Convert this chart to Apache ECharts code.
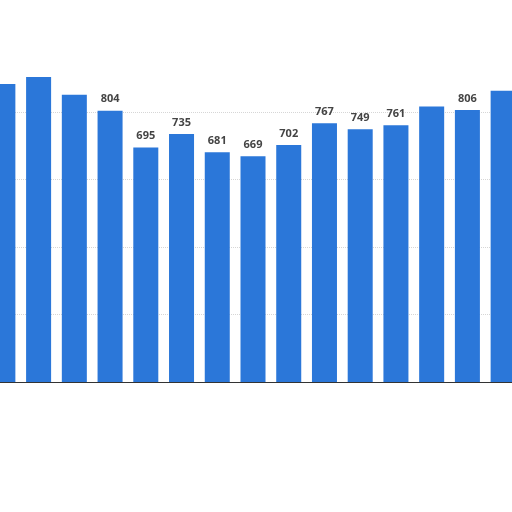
<!DOCTYPE html>
<html>
<head>
<meta charset="utf-8">
<script src="https://cdn.jsdelivr.net/npm/echarts@6/dist/echarts.min.js"></script>
<style>
html,body{margin:0;padding:0;background:#fff;overflow:hidden;width:512px;height:512px;}
#c{position:absolute;left:-15px;top:0;width:536px;height:512px;}
</style>
</head>
<body>
<div id="c"></div>
<script>
const categories = ['1','2','3','4','5','6','7','8','9','10','11','12','13','14','15'];
const values = [883, 904, 851, 804, 695, 735, 681, 669, 702, 767, 749, 761, 816, 806, 863];
const labelShown = [false, false, false, true, true, true, true, true, true, true, true, true, false, true, false];
const yTicks = [0, 200, 400, 600, 800];

const chart = echarts.init(document.getElementById('c'));
chart.setOption({
  animation: false,
  backgroundColor: '#ffffff',
  grid: { left: 0, right: 0, top: 112, bottom: 130, containLabel: false },
  xAxis: {
    type: 'category',
    data: categories,
    axisLine: { show: true, lineStyle: { color: '#333', width: 1 } },
    axisTick: { show: false },
    axisLabel: { show: false }
  },
  yAxis: {
    type: 'value',
    min: yTicks[0],
    max: yTicks[yTicks.length - 1],
    interval: 200,
    axisLine: { show: false },
    axisTick: { show: false },
    axisLabel: { show: false },
    splitLine: { show: true, lineStyle: { color: '#d6d6d6', type: 'dotted', width: 1 } }
  },
  series: [{
    type: 'bar',
    clip: false,
    barCategoryGap: '30%',
    data: values.map((v, i) => ({ value: v, label: { show: labelShown[i] } })),
    itemStyle: { color: '#2b77d9' },
    label: {
      show: true,
      position: 'top',
      distance: 6,
      color: '#444',
      fontWeight: 'bold',
      fontSize: 11,
      fontFamily: 'Open Sans'
    }
  }]
});
</script>
</body>
</html>
